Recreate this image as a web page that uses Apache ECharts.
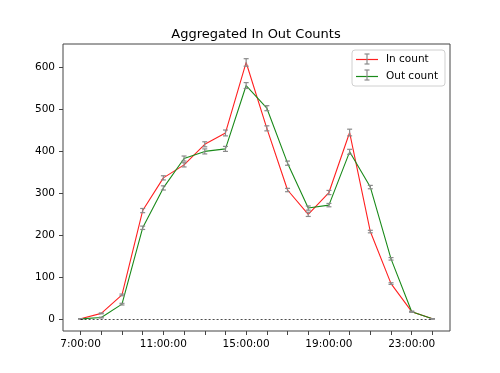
<!DOCTYPE html>
<html>
<head>
<meta charset="utf-8">
<script src="https://cdn.jsdelivr.net/npm/echarts@6/dist/echarts.min.js"></script>
<style>html,body{margin:0;padding:0;background:#fff}#c{width:500px;height:373px}</style>
</head>
<body>
<div id="c"></div>
<script>
var hours = [7, 8, 9, 10, 11, 12, 13, 14, 15, 16, 17, 18, 19, 20, 21, 22, 23, 24];
var inCount = [0, 13, 57, 258, 336, 367, 416, 443, 611, 454, 307, 249, 301, 444, 208, 84, 17, 0];
var inErr = [0, 1, 2, 5, 5, 5, 6, 7, 9, 6, 4, 5, 5, 8, 3, 2, 1, 0];
var outCount = [0, 3, 35, 217, 312, 382, 399, 405, 556, 502, 371, 264, 271, 398, 314, 143, 17, 0];
var outErr = [0, 1, 2, 4, 5, 6, 6, 6, 7, 6, 5, 5, 4, 6, 4, 3, 1, 0];
var xTickLabels = [7, 11, 15, 19, 23];
var yTickValues = [0, 100, 200, 300, 400, 500, 600];

function pairs(ys) { return hours.map(function (h, i) { return [h, ys[i]]; }); }
function errData(ys, es) { return hours.map(function (h, i) { return [h, ys[i] - es[i], ys[i] + es[i]]; }); }

var errStyle = { stroke: '#8a8a8a', lineWidth: 1.2 };
function renderErr(params, api) {
  var x = api.value(0);
  var lo = api.coord([x, api.value(1)]);
  var hi = api.coord([x, api.value(2)]);
  var cw = 2.5;
  return {
    type: 'group',
    children: [
      { type: 'line', shape: { x1: lo[0], y1: lo[1], x2: hi[0], y2: hi[1] }, style: errStyle },
      { type: 'line', shape: { x1: lo[0] - cw, y1: lo[1], x2: lo[0] + cw, y2: lo[1] }, style: errStyle },
      { type: 'line', shape: { x1: hi[0] - cw, y1: hi[1], x2: hi[0] + cw, y2: hi[1] }, style: errStyle }
    ]
  };
}
function legendBar(cx, cy) {
  var s = { stroke: '#8a8a8a', lineWidth: 1.2 };
  return [
    { type: 'line', z: 200, zlevel: 1, silent: true, shape: { x1: cx, y1: cy - 5, x2: cx, y2: cy + 5 }, style: s },
    { type: 'line', z: 200, zlevel: 1, silent: true, shape: { x1: cx - 2.5, y1: cy - 5, x2: cx + 2.5, y2: cy - 5 }, style: s },
    { type: 'line', z: 200, zlevel: 1, silent: true, shape: { x1: cx - 2.5, y1: cy + 5, x2: cx + 2.5, y2: cy + 5 }, style: s }
  ];
}

var font = 'DejaVu Sans';
var chart = echarts.init(document.getElementById('c'), null, { renderer: 'canvas' });
var lineIcon = 'path://M0,4.4h22v1.2h-22z';
chart.setOption({
  animation: false,
  backgroundColor: '#fff',
  title: {
    text: 'Aggregated In Out Counts',
    left: 256, textAlign: 'center', top: 28,
    padding: 0,
    textStyle: { fontFamily: font, fontSize: 13, fontWeight: 'normal', color: '#000' }
  },
  legend: {
    orient: 'vertical',
    left: 352, top: 50,
    padding: [4, 7, 4, 4],
    itemWidth: 22, itemHeight: 10, itemGap: 6,
    borderColor: '#d0d0d0', borderWidth: 1, borderRadius: 3,
    backgroundColor: 'rgba(255,255,255,0.8)',
    textStyle: { fontFamily: font, fontSize: 10.5, color: '#000', padding: [0, 0, 0, 3] },
    data: [
      { name: 'In count', icon: lineIcon },
      { name: 'Out count', icon: lineIcon }
    ]
  },
  graphic: legendBar(367, 59).concat(legendBar(367, 75)),
  grid: {
    left: 63, right: 50, top: 44, bottom: 42,
    show: true, borderColor: '#444', borderWidth: 1, backgroundColor: '#fff'
  },
  xAxis: {
    type: 'value', min: 6.15, max: 24.85,
    axisLine: { show: false, onZero: false },
    splitLine: { show: false },
    axisTick: { show: true, length: 4, lineStyle: { color: '#444' }, customValues: hours },
    axisLabel: {
      customValues: xTickLabels, margin: 8,
      fontFamily: font, fontSize: 10.5, color: '#000',
      formatter: function (v) { return v + ':00:00'; }
    }
  },
  yAxis: {
    type: 'value', min: -29, max: 655,
    axisLine: { show: false, onZero: false },
    splitLine: { show: false },
    axisTick: { show: true, length: 4, lineStyle: { color: '#444' }, customValues: yTickValues },
    axisLabel: { customValues: yTickValues, margin: 8, fontFamily: font, fontSize: 10.5, color: '#000' }
  },
  series: [
    {
      name: 'In count', type: 'line', data: pairs(inCount), symbol: 'none',
      lineStyle: { color: '#ff2020', width: 1.1 }, itemStyle: { color: '#ff2020' }, z: 3,
      markLine: {
        silent: true, symbol: 'none', label: { show: false },
        lineStyle: { color: '#000', type: [2, 2], width: 0.7 },
        data: [[{ coord: [hours[0], 0] }, { coord: [hours[hours.length - 1], 0] }]]
      }
    },
    {
      name: 'Out count', type: 'line', data: pairs(outCount), symbol: 'none',
      lineStyle: { color: '#1a8a1a', width: 1.1 }, itemStyle: { color: '#1a8a1a' }, z: 3
    },
    { name: 'In count', type: 'custom', renderItem: renderErr, data: errData(inCount, inErr), z: 4, encode: { x: 0, y: [1, 2] } },
    { name: 'Out count', type: 'custom', renderItem: renderErr, data: errData(outCount, outErr), z: 4, encode: { x: 0, y: [1, 2] } }
  ]
});
</script>
</body>
</html>
